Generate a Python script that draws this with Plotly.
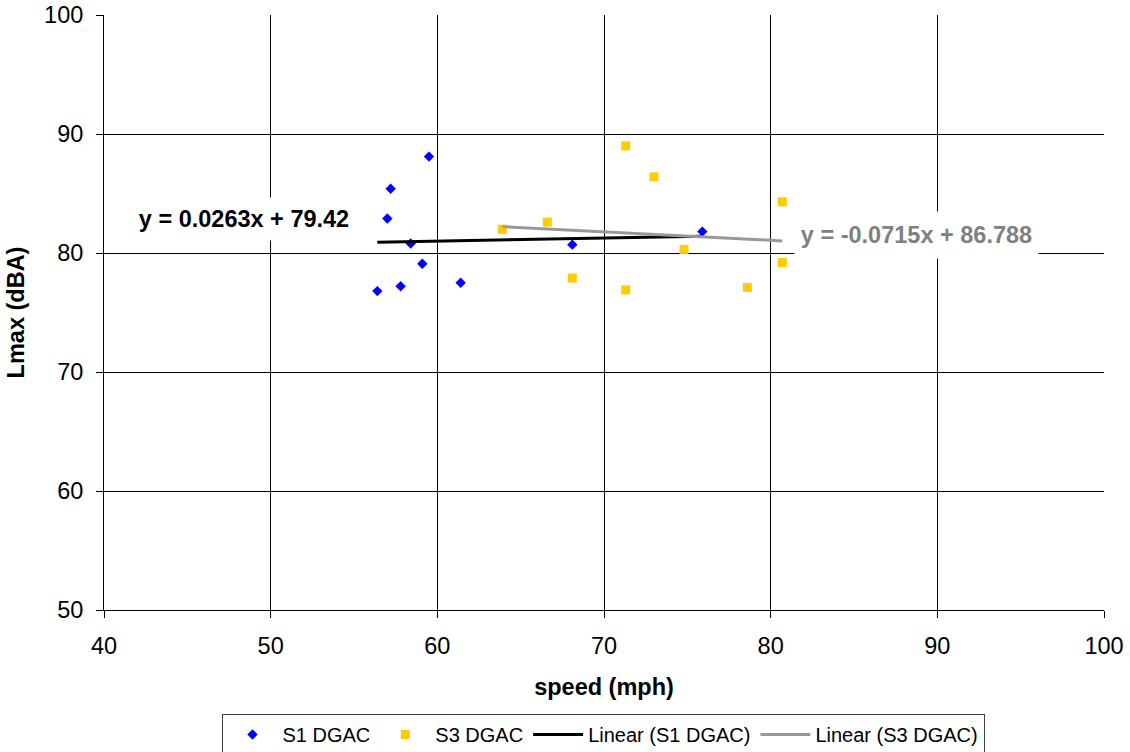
import plotly.graph_objects as go

# S1 DGAC data (speed mph, Lmax dBA)
s1_speed = [59.5, 57.2, 57.0, 58.4, 59.1, 57.8, 56.4, 61.4, 68.1, 75.9]
s1_lmax = [88.1, 85.4, 82.9, 80.8, 79.1, 77.2, 76.8, 77.5, 80.7, 81.8]

# S3 DGAC data
s3_speed = [63.9, 66.6, 71.3, 73.0, 68.1, 71.3, 74.8, 80.7, 80.7, 78.6]
s3_lmax = [82.0, 82.6, 89.0, 86.4, 77.9, 76.9, 80.3, 84.3, 79.2, 77.1]

# Trendline coefficients (as printed on chart)
s1_slope, s1_intercept = 0.0263, 79.42
s3_slope, s3_intercept = -0.0715, 86.788

s1_label = "y = 0.0263x + 79.42"
s3_label = "y = -0.0715x + 86.788"

x_ticks = [40, 50, 60, 70, 80, 90, 100]
y_ticks = [50, 60, 70, 80, 90, 100]

FONT = "Liberation Sans, Arial, sans-serif"
FS = 23.5

s1_tx = [min(s1_speed), max(s1_speed)]
s1_ty = [s1_slope * v + s1_intercept for v in s1_tx]
s3_tx = [min(s3_speed), max(s3_speed)]
s3_ty = [s3_slope * v + s3_intercept for v in s3_tx]

fig = go.Figure()
fig.add_trace(go.Scatter(x=s1_speed, y=s1_lmax, mode="markers", name="S1 DGAC",
                         marker=dict(symbol="diamond", size=8, color="#0000FF")))
fig.add_trace(go.Scatter(x=s3_speed, y=s3_lmax, mode="markers", name="S3 DGAC",
                         marker=dict(symbol="square", size=9, color="#FFCC00")))
fig.add_trace(go.Scatter(x=s1_tx, y=s1_ty, mode="lines", name="Linear (S1 DGAC)",
                         line=dict(color="#000000", width=3)))
fig.add_trace(go.Scatter(x=s3_tx, y=s3_ty, mode="lines", name="Linear (S3 DGAC)",
                         line=dict(color="#999999", width=3)))

fig.add_annotation(x=48.4, y=82.86, xref="x", yref="y", text="<b>" + s1_label + "</b>",
                   showarrow=False, bgcolor="#FFFFFF", width=240, height=42, borderpad=0,
                   font=dict(family=FONT, size=FS, color="#000000"))
fig.add_annotation(x=88.72, y=81.55, xref="x", yref="y", text="<b>" + s3_label + "</b>",
                   showarrow=False, bgcolor="#FFFFFF", width=243, height=46, borderpad=0,
                   font=dict(family=FONT, size=FS, color="#808080"))

fig.update_layout(
    width=1130, height=752,
    margin=dict(l=104, r=26, t=15, b=142, autoexpand=False),
    paper_bgcolor="#FFFFFF", plot_bgcolor="#FFFFFF",
    font=dict(family=FONT, size=FS, color="#000000"),
    showlegend=True,
    legend=dict(orientation="h", x=0.499, xanchor="center", y=-0.1748, yanchor="top",
                bordercolor="#404040", borderwidth=1, bgcolor="#FFFFFF",
                font=dict(family=FONT, size=20, color="#000000"),
                itemwidth=50, tracegroupgap=0),
    xaxis=dict(range=[40, 100], tickvals=x_ticks, showgrid=True, gridcolor="#000000",
               gridwidth=1, showline=True, linecolor="#000000", linewidth=1,
               ticks="outside", ticklen=7, tickcolor="#000000", zeroline=False,
               ticklabelstandoff=8, automargin=False, ticklabeloverflow="allow",
               title=dict(text="<b>speed (mph)</b>", font=dict(family=FONT, size=FS), standoff=20)),
    yaxis=dict(range=[50, 100], tickvals=y_ticks, showgrid=True, gridcolor="#000000",
               gridwidth=1, showline=True, linecolor="#000000", linewidth=1,
               ticks="outside", ticklen=7, tickcolor="#000000", zeroline=False,
               ticklabelstandoff=8, automargin=False, ticklabeloverflow="allow",
               title=dict(text="<b>Lmax (dBA)</b>", font=dict(family=FONT, size=FS), standoff=12)),
)

# remove the browser's default 8px body margin so the figure sits at the page origin
fig.write_html("out.html", config={"displayModeBar": False},
               post_script="document.body.style.margin='0';")
